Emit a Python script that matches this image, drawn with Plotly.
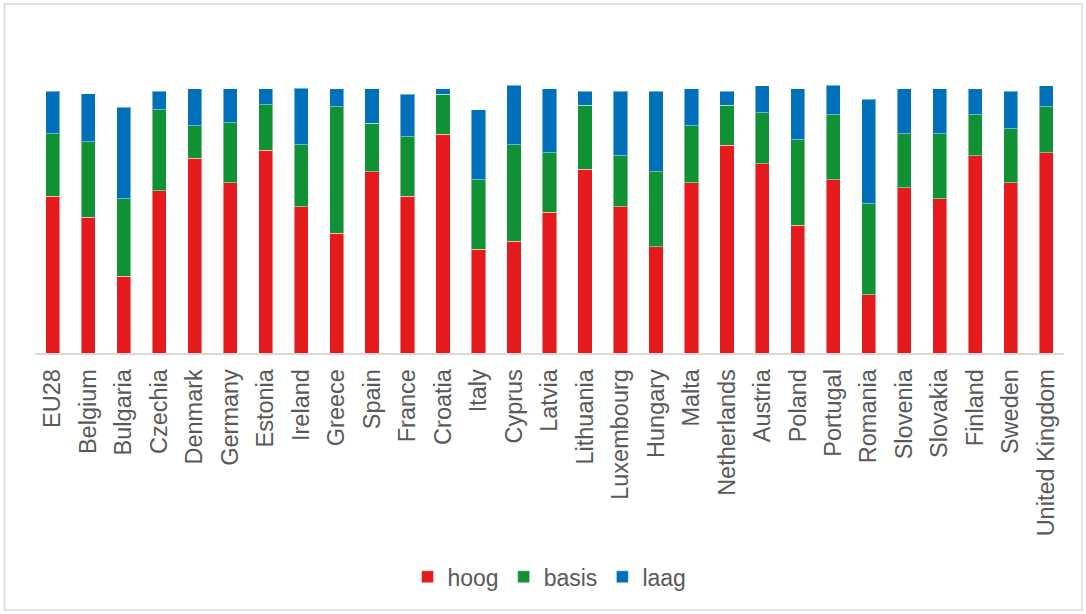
import plotly.graph_objects as go

countries = ["EU28", "Belgium", "Bulgaria", "Czechia", "Denmark", "Germany", "Estonia",
             "Ireland", "Greece", "Spain", "France", "Croatia", "Italy", "Cyprus", "Latvia",
             "Lithuania", "Luxembourg", "Hungary", "Malta", "Netherlands", "Austria", "Poland",
             "Portugal", "Romania", "Slovenia", "Slovakia", "Finland", "Sweden", "United Kingdom"]

hoog = [58.0, 50.3, 28.4, 60.1, 72.1, 63.0, 75.1, 54.2, 44.3, 67.1, 58.0, 81.0, 38.4, 41.4, 52.2,
        68.1, 54.2, 39.3, 63.0, 77.0, 70.0, 47.3, 64.2, 21.5, 61.1, 57.1, 73.1, 63.0, 74.1]
basis = [23.1, 27.9, 28.7, 29.9, 12.0, 22.2, 16.9, 22.9, 46.8, 18.0, 22.0, 14.9, 25.8, 35.7, 21.9,
         23.7, 18.8, 27.8, 21.1, 14.8, 18.9, 31.6, 24.0, 33.7, 20.0, 24.0, 15.1, 20.0, 17.0]
laag = [15.8, 17.8, 33.9, 6.9, 13.8, 12.7, 5.9, 20.9, 6.8, 12.7, 15.9, 2.0, 25.8, 22.0, 23.8,
        5.1, 24.0, 29.9, 13.8, 5.1, 10.1, 19.0, 10.9, 38.8, 16.8, 16.8, 9.7, 14.0, 7.9]

series = [("hoog", hoog, "#E41A1C"), ("basis", basis, "#0F9134"), ("laag", laag, "#0070BA")]

fig = go.Figure()
for name, vals, col in series:
    fig.add_trace(go.Bar(
        x=countries, y=vals, name=name,
        marker=dict(color=col, line=dict(color="rgba(255,255,255,0.45)", width=1)),
    ))

fig.update_layout(
    barmode="stack",
    bargap=0.6,
    width=1086, height=614,
    margin=dict(l=34.5, r=22, t=30, b=261),
    paper_bgcolor="white", plot_bgcolor="white",
    font=dict(family="Liberation Sans, Arial, sans-serif", size=23, color="#595959"),
    showlegend=True,
    legend=dict(orientation="h", x=0.5, xanchor="center", y=-0.693, yanchor="middle",
                font=dict(size=23, color="#595959"), itemwidth=30, traceorder="normal"),
    xaxis=dict(tickangle=-90, showgrid=False, showline=True, linecolor="#D9D9D9", linewidth=1.5,
               ticks="", ticklabelstandoff=5, tickfont=dict(size=23.5, color="#595959")),
    yaxis=dict(range=[0, 119.6], visible=False, showgrid=False, zeroline=False),
    shapes=[dict(type="rect", xref="paper", yref="paper",
                 x0=(4 - 34.5) / 1029.5, x1=(1082 - 34.5) / 1029.5,
                 y0=(353 - 610) / 323, y1=(353 - 4) / 323,
                 line=dict(color="#D9D9D9", width=1.5), fillcolor="rgba(0,0,0,0)", layer="below")],
)

fig.write_html("out.html", config={"displayModeBar": False},
               post_script="document.body.style.margin='0';document.body.style.padding='0';")
